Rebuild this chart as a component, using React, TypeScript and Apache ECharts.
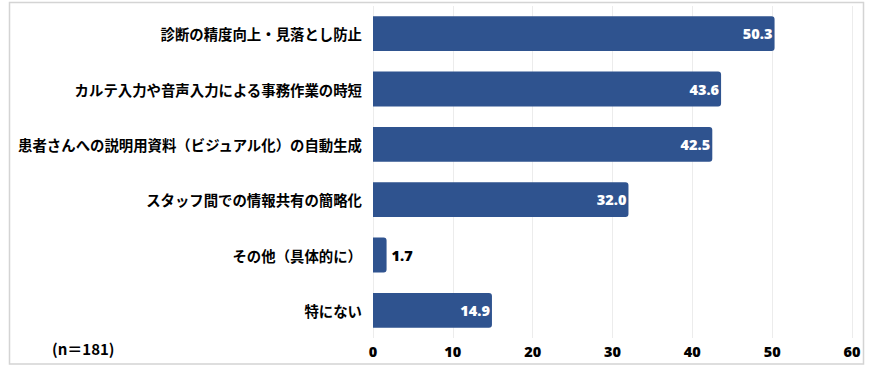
import React, { useEffect, useRef } from "react";
import * as echarts from "echarts";

const categories = [
  "診断の精度向上・見落とし防止",
  "カルテ入力や音声入力による事務作業の時短",
  "患者さんへの説明用資料（ビジュアル化）の自動生成",
  "スタッフ間での情報共有の簡略化",
  "その他（具体的に）",
  "特にない",
];
const values = [50.3, 43.6, 42.5, 32.0, 1.7, 14.9];
const xTicks = [0, 10, 20, 30, 40, 50, 60];
const note = "(n＝181)";

const BAR = "#2F538F";
const CJK = "'Noto Sans CJK JP', 'Noto Sans', sans-serif";
const NUM = "'Open Sans', 'Noto Sans', sans-serif";

export default function App() {
  const ref = useRef<HTMLDivElement>(null);
  useEffect(() => {
    if (!ref.current) return;
    const chart = echarts.init(ref.current, undefined, { renderer: "svg" });
    const catRev = [...categories].reverse();
    const valRev = [...values].reverse();
    chart.setOption({
      animation: false,
      backgroundColor: "#ffffff",
      grid: { left: 373, right: 27, top: 6, bottom: 34, containLabel: false },
      xAxis: {
        type: "value",
        min: xTicks[0],
        max: xTicks[xTicks.length - 1],
        interval: 10,
        axisLine: { show: false },
        axisTick: { show: false },
        splitLine: { show: true, lineStyle: { color: "#ececec", width: 1 } },
        axisLabel: {
          color: "#000",
          fontFamily: NUM,
          fontWeight: 800,
          fontSize: 14.5,
          margin: 6,
        },
      },
      yAxis: {
        type: "category",
        data: catRev,
        axisLine: { show: false },
        axisTick: { show: false },
        axisLabel: {
          color: "#000",
          fontFamily: CJK,
          fontWeight: "bold",
          fontSize: 14.4,
          margin: 11,
        },
      },
      series: [
        {
          type: "bar",
          data: valRev.map((v) => ({
            value: v,
            label:
              v < 5
                ? {
                    show: true,
                    position: "right",
                    distance: 5,
                    color: "#000",
                  }
                : {
                    show: true,
                    position: "insideRight",
                    distance: 2,
                    color: "#ffffff",
                  },
          })),
          barCategoryGap: "37%",
          itemStyle: { color: BAR, borderRadius: [0, 3, 3, 0] },
          label: {
            show: true,
            fontFamily: NUM,
            fontWeight: 800,
            fontSize: 14.5,
            formatter: (p: any) => Number(p.value).toFixed(1),
          },
        },
      ],
      graphic: [
        {
          type: "rect",
          silent: true,
          shape: { x: 9.5, y: 2.5, width: 854, height: 361.5 },
          style: { fill: "none", stroke: "#d4d4d4", lineWidth: 1.5 },
        },
        {
          type: "text",
          x: 52,
          y: 348,
          style: {
            text: note,
            fontFamily: CJK,
            fontWeight: "bold",
            fontSize: 15,
            fill: "#000",
            verticalAlign: "middle",
          },
        },
      ],
    });
    return () => chart.dispose();
  }, []);
  return (
    <div
      ref={ref}
      style={{ position: "fixed", left: 0, top: 0, width: 879, height: 372 }}
    />
  );
}
